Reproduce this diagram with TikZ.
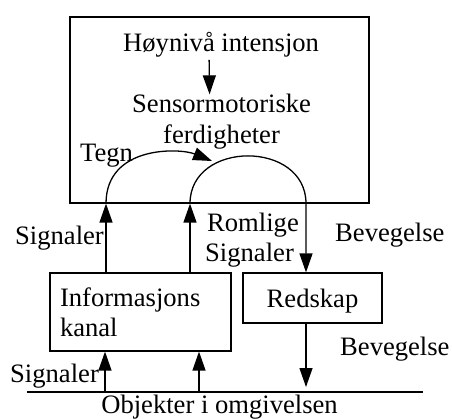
\documentclass[tikz,border=0pt]{standalone}
\usepackage{fontspec}
\setmainfont{Liberation Serif}
\usetikzlibrary{arrows.meta}

\tikzset{
  boks/.style={draw, line width=1.2pt},
  tekst/.style={inner sep=0pt, anchor=base west},
  pil/.style={line width=1.3pt, -{Triangle[length=19pt,width=13pt]}},
  linje/.style={line width=1.3pt}
}

\begin{document}
\begin{tikzpicture}[x=1pt, y=-1pt, font=\fontsize{26.6}{30}\selectfont]
            \useasboundingbox (0,0) rectangle (452,419);

            % Hovedboks
            \node[boks, minimum width=299pt, minimum height=186pt] (hjerne) at (219.5,110) {};
            \node[tekst] (hoy) at (123,52) {Høynivå intensjon};
            \node[tekst] (sens) at (132,113) {Sensormotoriske};
            \node[tekst] (ferd) at (163,144) {ferdigheter};
            \draw[pil, shorten <=2pt] ([xshift=-12pt]hoy.south) -- ([xshift=-12pt]sens.north);
            \node[tekst] (tegn) at (80,162) {Tegn};

            % Boksene under
            \node[boks, minimum width=181pt, minimum height=78pt, text width=161pt, inner xsep=10pt, align=left] (kanal) at (140.5,312) {Informasjons\\kanal};
            \node[boks, minimum width=139pt, minimum height=50pt, text depth=0pt] (redskap) at (312.5,298) {Redskap};

            % Kolonner for pilene
            \coordinate (venstre) at (106,0);
            \coordinate (midt) at (190,0);
            \coordinate (hoyre) at (306,0);
            \coordinate (tegnpil) at (212,161);

            % Signaler opp og buene
            \draw[pil] (venstre |- kanal.north) -- (venstre |- hjerne.south);
            \draw[pil] (midt |- kanal.north) -- (midt |- hjerne.south);
            \draw[pil] (venstre |- hjerne.south) .. controls (106,145) and (180,148) .. (tegnpil);
            \draw[pil] (midt |- hjerne.south) .. controls (190,140) and (306,140) .. (hoyre |- hjerne.south) -- (hoyre |- redskap.north);

            % Etiketter
            \node[tekst] (sig1) at (15,245) {Signaler};
            \node[tekst] (rom1) at (207,232) {Romlige};
            \node[tekst] (rom2) at (205,262) {Signaler};
            \node[tekst] (bev1) at (335,242) {Bevegelse};
            \node[tekst] (bev2) at (340,355) {Bevegelse};
            \node[tekst] (sig2) at (10,382) {Signaler};

            % Omgivelsen
            \coordinate (bunnV) at (27,392);
            \coordinate (bunnH) at (423,392);
            \coordinate (inn1) at (105,0);
            \coordinate (inn2) at (199,0);
            \draw[linje] (bunnV) -- (bunnH);
            \node[tekst, anchor=base] (obj) at (219.5,413) {Objekter i omgivelsen};
            \draw[pil] (inn1 |- bunnV) -- (inn1 |- kanal.south);
            \draw[pil] (inn2 |- bunnV) -- (inn2 |- kanal.south);
            \draw[pil, shorten >=5pt] (hoyre |- redskap.south) -- (hoyre |- bunnV);
        \end{tikzpicture}
\end{document}
